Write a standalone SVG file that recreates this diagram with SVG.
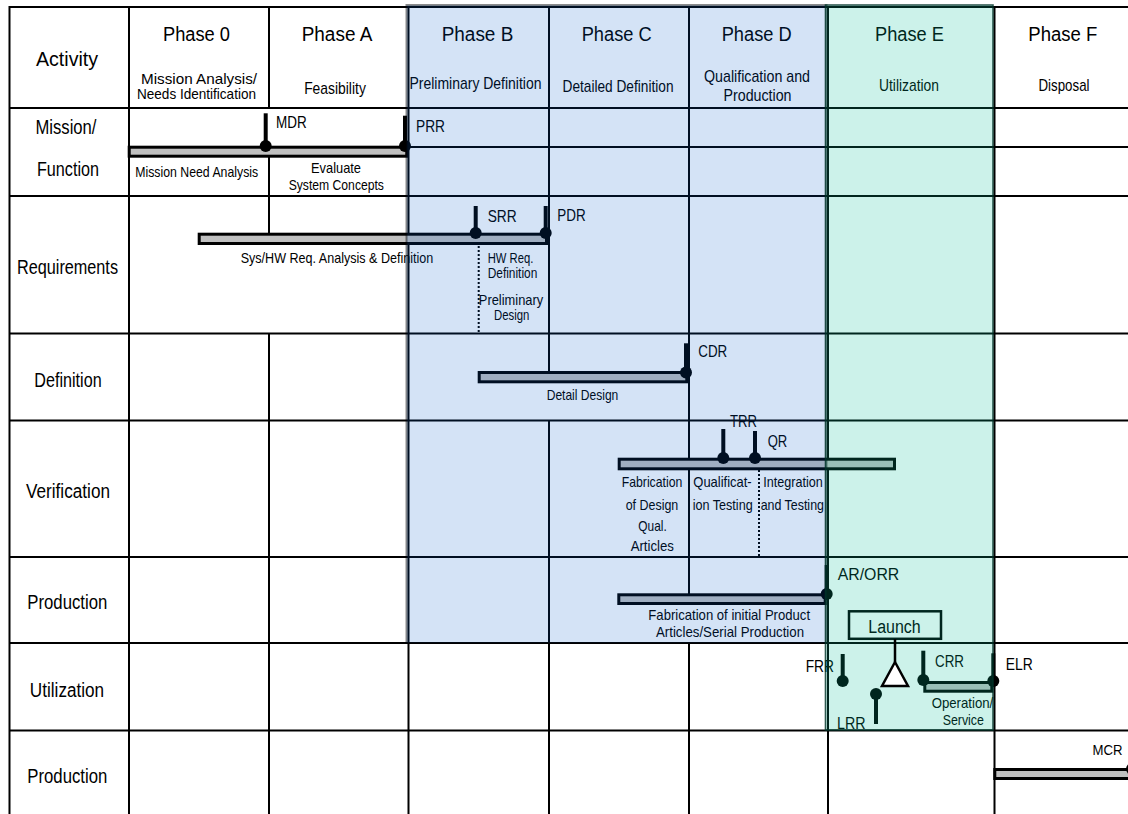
<svg xmlns="http://www.w3.org/2000/svg" width="1128" height="814" viewBox="0 0 1128 814">
  <style>
    text { font-family: "Liberation Sans", Arial, sans-serif; fill: #000; }
    .ph { font-size: 20px; text-anchor: middle; }
    .sub { font-size: 17px; text-anchor: middle; }
    .sub2 { font-size: 14.5px; text-anchor: middle; }
    .row { font-size: 20px; text-anchor: middle; }
    .sm { font-size: 15px; text-anchor: middle; }
    .ms { font-size: 17px; }
    .grid line { stroke: #000; stroke-width: 2; }
    .dotted { stroke: #000; stroke-width: 1.6; stroke-dasharray: 2 2; }
    .bar { fill: #c0c0c0; stroke: #000; stroke-width: 3; }
    .stem { stroke: #000; stroke-width: 4; }
    .dot { fill: #000; }
    .phaseB { fill: rgb(0,90,200); fill-opacity: 0.17; stroke: #000; stroke-opacity: 0.45; stroke-width: 2; }
    .phaseE { fill: rgb(0,190,150); fill-opacity: 0.2; stroke: #003328; stroke-opacity: 0.8; stroke-width: 1.6; }
  </style>

  <rect width="1128" height="814" fill="#fff"/>

  <!-- table grid -->
  <g id="grid" class="grid">
    <line x1="9" y1="7" x2="1128" y2="7"/>
    <line x1="9" y1="108" x2="1128" y2="108"/>
    <line x1="408" y1="147" x2="1128" y2="147"/>
    <line x1="9" y1="196" x2="1128" y2="196"/>
    <line x1="9" y1="333.5" x2="1128" y2="333.5"/>
    <line x1="9" y1="420.5" x2="1128" y2="420.5"/>
    <line x1="9" y1="557" x2="1128" y2="557"/>
    <line x1="9" y1="643" x2="1128" y2="643"/>
    <line x1="9" y1="730.5" x2="1128" y2="730.5"/>

    <line x1="9.5" y1="6" x2="9.5" y2="814"/>
    <line x1="129" y1="6" x2="129" y2="814"/>
    <line x1="269" y1="6" x2="269" y2="108"/>
    <line x1="269" y1="157" x2="269" y2="234"/>
    <line x1="269" y1="333" x2="269" y2="814"/>
    <line x1="408.5" y1="6" x2="408.5" y2="814"/>
    <line x1="549" y1="6" x2="549" y2="372"/>
    <line x1="549" y1="420" x2="549" y2="814"/>
    <line x1="689" y1="6" x2="689" y2="594"/>
    <line x1="689" y1="643" x2="689" y2="814"/>
    <line x1="828" y1="6" x2="828" y2="814"/>
    <line x1="994.5" y1="6" x2="994.5" y2="814"/>

    <line class="dotted" x1="478.7" y1="246" x2="478.7" y2="333"/>
    <line class="dotted" x1="759" y1="470" x2="759" y2="557"/>
  </g>

  <!-- column headings -->
  <g id="head-activity"><text class="ph" x="67" y="66" textLength="62" lengthAdjust="spacingAndGlyphs">Activity</text></g>
  <g id="head-phase0">
    <text class="ph" x="196.5" y="40.7" textLength="67" lengthAdjust="spacingAndGlyphs">Phase 0</text>
    <text class="sub2" x="199" y="84" textLength="116" lengthAdjust="spacingAndGlyphs">Mission Analysis/</text>
    <text class="sub2" x="196.5" y="99" textLength="119" lengthAdjust="spacingAndGlyphs">Needs Identification</text>
  </g>
  <g id="head-phaseA">
    <text class="ph" x="337" y="40.7" textLength="70.6" lengthAdjust="spacingAndGlyphs">Phase A</text>
    <text class="sub" x="335" y="94" textLength="61.7" lengthAdjust="spacingAndGlyphs">Feasibility</text>
  </g>
  <g id="head-phaseB">
    <text class="ph" x="477.5" y="40.7" textLength="71.6" lengthAdjust="spacingAndGlyphs">Phase B</text>
    <text class="sub" x="475.5" y="89" textLength="132" lengthAdjust="spacingAndGlyphs">Preliminary Definition</text>
  </g>
  <g id="head-phaseC">
    <text class="ph" x="616.7" y="40.7" textLength="70" lengthAdjust="spacingAndGlyphs">Phase C</text>
    <text class="sub" x="618" y="92" textLength="111" lengthAdjust="spacingAndGlyphs">Detailed Definition</text>
  </g>
  <g id="head-phaseD">
    <text class="ph" x="756.7" y="40.7" textLength="70" lengthAdjust="spacingAndGlyphs">Phase D</text>
    <text class="sub" x="757" y="81.7" textLength="106" lengthAdjust="spacingAndGlyphs">Qualification and</text>
    <text class="sub" x="757.5" y="100.7" textLength="68" lengthAdjust="spacingAndGlyphs">Production</text>
  </g>
  <g id="head-phaseE">
    <text class="ph" x="909.5" y="40.7" textLength="69" lengthAdjust="spacingAndGlyphs">Phase E</text>
    <text class="sub" x="909" y="91" textLength="60" lengthAdjust="spacingAndGlyphs">Utilization</text>
  </g>
  <g id="head-phaseF">
    <text class="ph" x="1062.8" y="40.7" textLength="69" lengthAdjust="spacingAndGlyphs">Phase F</text>
    <text class="sub" x="1064" y="91" textLength="51" lengthAdjust="spacingAndGlyphs">Disposal</text>
  </g>

  <!-- row headings -->
  <g id="row-mission">
    <text class="row" x="66" y="134" textLength="61" lengthAdjust="spacingAndGlyphs">Mission/</text>
    <text class="row" x="68" y="176" textLength="62" lengthAdjust="spacingAndGlyphs">Function</text>
  </g>
  <g id="row-requirements"><text class="row" x="67.5" y="274" textLength="101" lengthAdjust="spacingAndGlyphs">Requirements</text></g>
  <g id="row-definition"><text class="row" x="68" y="386.7" textLength="67.3" lengthAdjust="spacingAndGlyphs">Definition</text></g>
  <g id="row-verification"><text class="row" x="68" y="498" textLength="84" lengthAdjust="spacingAndGlyphs">Verification</text></g>
  <g id="row-production"><text class="row" x="67.3" y="609" textLength="80" lengthAdjust="spacingAndGlyphs">Production</text></g>
  <g id="row-utilization"><text class="row" x="67" y="696.7" textLength="74.3" lengthAdjust="spacingAndGlyphs">Utilization</text></g>
  <g id="row-disposal"><text class="row" x="67.3" y="783.3" textLength="80" lengthAdjust="spacingAndGlyphs">Production</text></g>

  <!-- activity bars -->
  <g id="bar-mission">
    <rect class="bar" x="129.2" y="147.2" width="277.6" height="9"/>
    <text class="sm" x="196.7" y="176.7" textLength="123" lengthAdjust="spacingAndGlyphs">Mission Need Analysis</text>
    <text class="sm" x="336" y="173.3" textLength="50" lengthAdjust="spacingAndGlyphs">Evaluate</text>
    <text class="sm" x="336.3" y="190" textLength="95.3" lengthAdjust="spacingAndGlyphs">System Concepts</text>
  </g>
  <g id="bar-requirements">
    <rect class="bar" x="199.2" y="234.2" width="347.3" height="9.3"/>
    <text class="sm" x="337" y="262.7" textLength="192.6" lengthAdjust="spacingAndGlyphs">Sys/HW Req. Analysis &amp; Definition</text>
    <text class="sm" x="510.5" y="262.7" textLength="45.6" lengthAdjust="spacingAndGlyphs">HW Req.</text>
    <text class="sm" x="512.5" y="278.3" textLength="49.6" lengthAdjust="spacingAndGlyphs">Definition</text>
    <text class="sm" x="511" y="305" textLength="64.3" lengthAdjust="spacingAndGlyphs">Preliminary</text>
    <text class="sm" x="511.7" y="320" textLength="35.3" lengthAdjust="spacingAndGlyphs">Design</text>
  </g>
  <g id="bar-definition">
    <rect class="bar" x="479.2" y="372.5" width="207.6" height="9.3"/>
    <text class="sm" x="582.5" y="400" textLength="71.6" lengthAdjust="spacingAndGlyphs">Detail Design</text>
  </g>
  <g id="bar-verification">
    <rect class="bar" x="619.2" y="459.2" width="275.3" height="9.6"/>
    <text class="sm" x="652" y="487.3" textLength="60.6" lengthAdjust="spacingAndGlyphs">Fabrication</text>
    <text class="sm" x="652" y="510" textLength="52.6" lengthAdjust="spacingAndGlyphs">of Design</text>
    <text class="sm" x="652.5" y="531" textLength="28.4" lengthAdjust="spacingAndGlyphs">Qual.</text>
    <text class="sm" x="652.3" y="551" textLength="43.3" lengthAdjust="spacingAndGlyphs">Articles</text>
    <text class="sm" x="722.5" y="487.3" textLength="58.4" lengthAdjust="spacingAndGlyphs">Qualificat-</text>
    <text class="sm" x="722.7" y="510" textLength="60" lengthAdjust="spacingAndGlyphs">ion Testing</text>
    <text class="sm" x="793" y="487.3" textLength="59.4" lengthAdjust="spacingAndGlyphs">Integration</text>
    <text class="sm" x="792.3" y="510" textLength="63.3" lengthAdjust="spacingAndGlyphs">and Testing</text>
  </g>
  <g id="bar-production">
    <rect class="bar" x="618.8" y="594.8" width="206.4" height="8.7"/>
    <text class="sm" x="729.2" y="620" textLength="161.7" lengthAdjust="spacingAndGlyphs">Fabrication of initial Product</text>
    <text class="sm" x="730" y="636.7" textLength="148" lengthAdjust="spacingAndGlyphs">Articles/Serial Production</text>
  </g>
  <g id="bar-operation">
    <rect class="bar" x="924.8" y="682.5" width="67" height="8.7"/>
    <text class="sm" x="962.5" y="708.3" textLength="61.6" lengthAdjust="spacingAndGlyphs">Operation/</text>
    <text class="sm" x="963.3" y="725" textLength="41.3" lengthAdjust="spacingAndGlyphs">Service</text>
  </g>
  <g id="bar-disposal">
    <rect class="bar" x="994.8" y="769.5" width="140" height="9"/>
  </g>

  <!-- review milestones -->
  <g id="ms-mdr">
    <line class="stem" x1="265.7" y1="113.3" x2="265.7" y2="146"/>
    <circle class="dot" cx="265.7" cy="146" r="6"/>
    <text class="ms" x="276" y="128.3" textLength="30.7" lengthAdjust="spacingAndGlyphs">MDR</text>
  </g>
  <g id="ms-prr">
    <line class="stem" x1="405" y1="115.7" x2="405" y2="146"/>
    <circle class="dot" cx="405" cy="146" r="6"/>
    <text class="ms" x="416" y="131.7" textLength="29" lengthAdjust="spacingAndGlyphs">PRR</text>
  </g>
  <g id="ms-srr">
    <line class="stem" x1="475.7" y1="206" x2="475.7" y2="233"/>
    <circle class="dot" cx="475.7" cy="233" r="6"/>
    <text class="ms" x="487.7" y="222" textLength="29" lengthAdjust="spacingAndGlyphs">SRR</text>
  </g>
  <g id="ms-pdr">
    <line class="stem" x1="545.7" y1="206" x2="545.7" y2="233"/>
    <circle class="dot" cx="545.7" cy="233" r="6"/>
    <text class="ms" x="557.3" y="221" textLength="28.4" lengthAdjust="spacingAndGlyphs">PDR</text>
  </g>
  <g id="ms-cdr">
    <line class="stem" x1="686" y1="343.3" x2="686" y2="372"/>
    <circle class="dot" cx="686" cy="372.5" r="6"/>
    <text class="ms" x="698.3" y="356.7" textLength="29" lengthAdjust="spacingAndGlyphs">CDR</text>
  </g>
  <g id="ms-trr">
    <line class="stem" x1="723.3" y1="429" x2="723.3" y2="458"/>
    <circle class="dot" cx="723.3" cy="458" r="6"/>
    <text class="ms" x="730" y="426.7" textLength="27" lengthAdjust="spacingAndGlyphs">TRR</text>
  </g>
  <g id="ms-qr">
    <line class="stem" x1="755" y1="431" x2="755" y2="458"/>
    <circle class="dot" cx="755" cy="458" r="6"/>
    <text class="ms" x="767.7" y="446.7" textLength="19.6" lengthAdjust="spacingAndGlyphs">QR</text>
  </g>
  <g id="ms-ar-orr">
    <line class="stem" x1="826.7" y1="565" x2="826.7" y2="594"/>
    <circle class="dot" cx="826.7" cy="594" r="6"/>
    <text class="ms" x="837.7" y="580" textLength="61.6" lengthAdjust="spacingAndGlyphs">AR/ORR</text>
  </g>
  <g id="ms-frr">
    <line class="stem" x1="842.7" y1="654" x2="842.7" y2="681"/>
    <circle class="dot" cx="842.7" cy="681" r="6"/>
    <text class="ms" x="805.7" y="672.3" textLength="28.3" lengthAdjust="spacingAndGlyphs">FRR</text>
  </g>
  <g id="ms-lrr">
    <line class="stem" x1="876" y1="694" x2="876" y2="724"/>
    <circle class="dot" cx="876" cy="694" r="6"/>
    <text class="ms" x="837" y="729" textLength="28.5" lengthAdjust="spacingAndGlyphs">LRR</text>
  </g>
  <g id="ms-crr">
    <line class="stem" x1="923.3" y1="650.7" x2="923.3" y2="680"/>
    <circle class="dot" cx="923.3" cy="680" r="6"/>
    <text class="ms" x="935" y="666.7" textLength="29" lengthAdjust="spacingAndGlyphs">CRR</text>
  </g>
  <g id="ms-elr">
    <line class="stem" x1="993.3" y1="653.3" x2="993.3" y2="681"/>
    <circle class="dot" cx="993.3" cy="681" r="6"/>
    <text class="ms" x="1005.7" y="670" textLength="27" lengthAdjust="spacingAndGlyphs">ELR</text>
  </g>
  <g id="ms-mcr">
    <line class="stem" x1="1132" y1="740" x2="1132" y2="769"/>
    <circle class="dot" cx="1132" cy="769" r="6"/>
    <text x="1092.5" y="755" font-size="15" textLength="30" lengthAdjust="spacingAndGlyphs">MCR</text>
  </g>

  <g id="launch">
    <rect x="849" y="611.3" width="92" height="27.5" fill="#fff" stroke="#000" stroke-width="2.5"/>
    <text x="894.5" y="632.7" font-size="18" text-anchor="middle" textLength="52.4" lengthAdjust="spacingAndGlyphs">Launch</text>
  </g>

  <!-- phase shading -->
  <g id="phase-shading">
    <rect class="phaseB" x="406.5" y="5" width="420" height="638"/>
    <rect class="phaseE" x="825.5" y="5" width="167.5" height="725"/>
  </g>

  <!-- launch event connector and symbol -->
  <g id="connectors">
    <line x1="895" y1="639" x2="895" y2="662" stroke="#000" stroke-width="2.5"/>
    <polygon points="895,662 882,686 908,686" fill="#fff" stroke="#000" stroke-width="2.5" stroke-linejoin="miter"/>
  </g>
</svg>
